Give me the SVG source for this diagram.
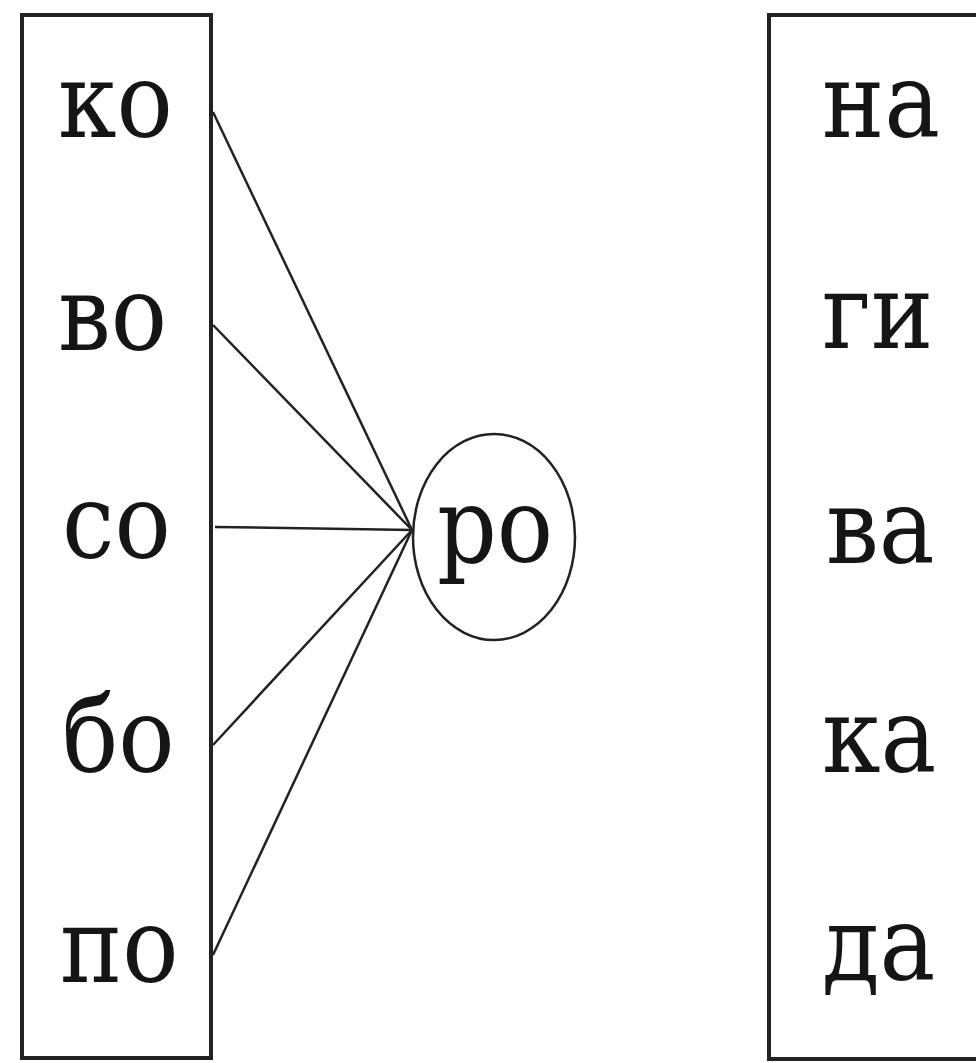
<svg xmlns="http://www.w3.org/2000/svg" width="976" height="1063" viewBox="0 0 976 1063">
<style>
.box{fill:none;stroke:#222;stroke-width:4}
.t{font-family:"DejaVu Serif","Liberation Serif",serif;font-stretch:condensed;font-size:104px;fill:#151515}
.c{stroke:#222;stroke-width:2.5;fill:none}
</style>
<rect x="0" y="0" width="976" height="1063" fill="#fff"/>
<g id="left-column">
<rect class="box" x="22" y="15" width="189" height="1043"/>
<text class="t" x="58" y="137">ко</text>
<text class="t" x="58" y="350">во</text>
<text class="t" x="62" y="558">со</text>
<text class="t" x="62" y="772">бо</text>
<text class="t" x="60" y="982">по</text>
</g>
<g id="right-column">
<rect class="box" x="769" y="15" width="230" height="1044"/>
<text class="t" x="822" y="137">на</text>
<text class="t" x="822" y="348">ги</text>
<text class="t" x="826" y="563">ва</text>
<text class="t" x="822" y="772">ка</text>
<text class="t" x="822" y="980">да</text>
</g>
<g id="ro">
<ellipse class="c" cx="494" cy="537" rx="81" ry="103"/>
<text class="t" x="437" y="562">ро</text>
</g>
<g id="connectors" class="c">
<line x1="213" y1="112" x2="412" y2="530"/>
<line x1="213" y1="325" x2="412" y2="530"/>
<line x1="215" y1="527" x2="412" y2="530"/>
<line x1="213" y1="745" x2="412" y2="530"/>
<line x1="213" y1="955" x2="412" y2="530"/>
</g>
</svg>
